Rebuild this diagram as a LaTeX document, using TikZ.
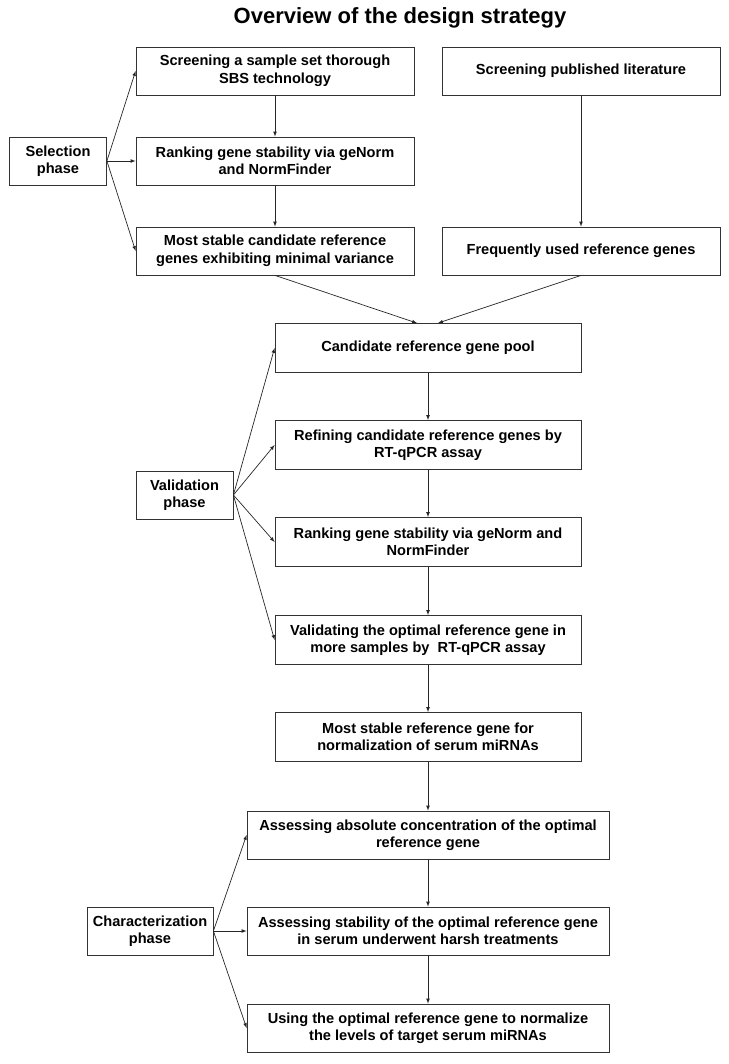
\documentclass[tikz,border=0pt]{standalone}
\usepackage{fontspec}
\setmainfont{Liberation Sans}
\usepackage{tikz}
\usetikzlibrary{arrows, positioning, calc}

\tikzset{
  stepbox/.style={draw=black!80, line width=0.8pt, align=center, font=\fontsize{14.6}{17.5}\selectfont\bfseries, inner sep=2pt},
  phasebox/.style={stepbox, minimum width=97pt, minimum height=48pt},
  flow/.style={-latex, line width=0.7pt, black!85}
}

\begin{document}
\begin{tikzpicture}[x=1pt, y=-1pt]
\useasboundingbox (0,0) rectangle (728,1064);

% Title
\node (title) at (400, 18) {\fontsize{22}{26}\selectfont\bfseries Overview of the design strategy};

% Selection phase
\node[phasebox] (sel) at (58, 161) {Selection\\phase};
\node[stepbox, minimum width=278pt, minimum height=48pt] (sbs) at (275, 71) {Screening a sample set thorough\\SBS technology};
\node[stepbox, minimum width=278pt, minimum height=48pt] (rank1) at (275, 161) {Ranking gene stability via geNorm\\and NormFinder};
\node[stepbox, minimum width=278pt, minimum height=48pt] (cand) at (275, 251) {Most stable candidate reference\\genes exhibiting minimal variance};
\node[stepbox, minimum width=278pt, minimum height=48pt] (lit) at (581, 71) {Screening published literature};
\node[stepbox, minimum width=278pt, minimum height=48pt] (freq) at (581, 251) {Frequently used reference genes};

\draw[flow] (sel.east) -- (sbs.west);
\draw[flow] (sel.east) -- (rank1.west);
\draw[flow] (sel.east) -- (cand.west);
\draw[flow] (sbs) -- (rank1);
\draw[flow] (rank1) -- (cand);
\draw[flow] (lit) -- (freq);

% Validation phase
\node[stepbox, minimum width=306pt, minimum height=49pt] (pool) at (428, 348) {Candidate reference gene pool};
\node[stepbox, minimum width=306pt, minimum height=49pt] (refine) at (428, 445) {Refining candidate reference genes by\\RT-qPCR assay};
\node[stepbox, minimum width=306pt, minimum height=49pt] (rank2) at (428, 542) {Ranking gene stability via geNorm and\\NormFinder};
\node[stepbox, minimum width=306pt, minimum height=49pt] (valid) at (428, 640) {Validating the optimal reference gene in\\more samples by~ RT-qPCR assay};
\node[stepbox, minimum width=306pt, minimum height=49pt] (best) at (428, 737) {Most stable reference gene for\\normalization of serum miRNAs};
\node[phasebox] (val) at (184.5, 495) {Validation\\phase};

\coordinate (pinA) at ($(pool.north)+(-11,0)$);
\coordinate (pinB) at ($(pool.north)+(10,0)$);
\draw[flow] (cand.south) -- (pinA);
\draw[flow] (freq.south) -- (pinB);

\draw[flow] (val.east) -- (pool.west);
\draw[flow] (val.east) -- (refine.west);
\draw[flow] (val.east) -- (rank2.west);
\draw[flow] (val.east) -- (valid.west);
\draw[flow] (pool) -- (refine);
\draw[flow] (refine) -- (rank2);
\draw[flow] (rank2) -- (valid);
\draw[flow] (valid) -- (best);

% Characterization phase
\node[stepbox, minimum width=362pt, minimum height=48pt] (conc) at (428, 835) {Assessing absolute concentration of the optimal\\reference gene};
\node[stepbox, minimum width=362pt, minimum height=48pt] (harsh) at (428, 931) {Assessing stability of the optimal reference gene\\in serum underwent harsh treatments};
\node[stepbox, minimum width=362pt, minimum height=48pt] (norm) at (428, 1028) {Using the optimal reference gene to normalize\\the levels of target serum miRNAs};
\node[phasebox, minimum width=126pt] (chr) at (150, 931) {Characterization\\phase};

\draw[flow] (best) -- (conc);
\draw[flow] (conc) -- (harsh);
\draw[flow] (harsh) -- (norm);
\draw[flow] (chr.east) -- (conc.west);
\draw[flow] (chr.east) -- (harsh.west);
\draw[flow] (chr.east) -- (norm.west);
\end{tikzpicture}
\end{document}
